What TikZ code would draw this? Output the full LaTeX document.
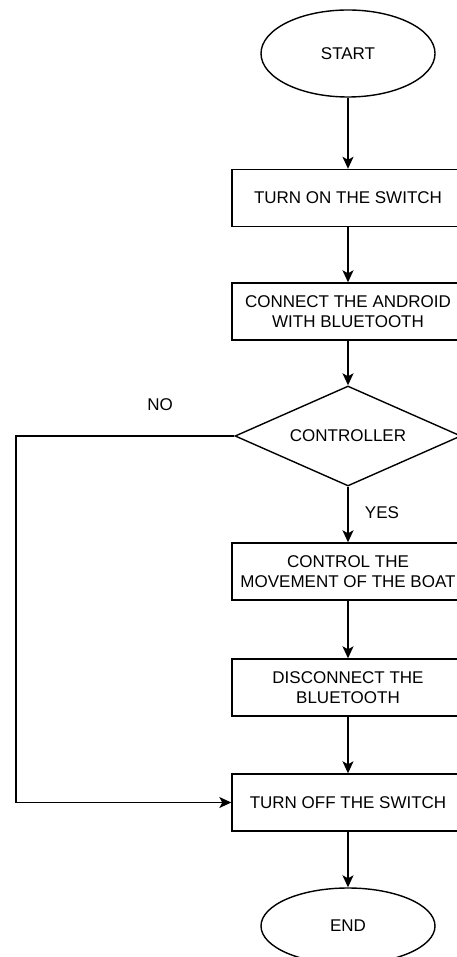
\documentclass[tikz,border=0pt]{standalone}
\usepackage{fontspec}
\setmainfont{Liberation Sans}
\usetikzlibrary{shapes.geometric,arrows.meta}

\tikzset{
    every node/.style={font=\fontsize{17}{20}\selectfont},
    process/.style={draw, line width=1.4pt, minimum width=232pt, minimum height=57pt, inner sep=0pt, align=center},
    terminal/.style={draw, ellipse, line width=1.4pt, minimum width=174pt, minimum height=87pt, inner sep=0pt},
    decision/.style={draw, diamond, aspect=2.26, line width=1.4pt, minimum width=226pt, minimum height=100pt, inner sep=0pt},
    flow/.style={line width=1.4pt, -{Stealth[length=12pt,width=11pt,inset=3pt]}}
}

\begin{document}
\begin{tikzpicture}[x=1pt,y=-1pt]
    \useasboundingbox (0,0) rectangle (457,957);

    % Start and first steps
    \node[terminal] (start) at (348,53.5) {START};
    \node[process] (on) at (348,198) {TURN ON THE SWITCH};
    \node[process] (connect) at (348,311.5) {CONNECT THE ANDROID\\WITH BLUETOOTH};

    % Decision
    \node[decision] (ctrl) at (348,436) {CONTROLLER};

    % Yes branch
    \node[process] (move) at (348,571.5) {CONTROL THE\\MOVEMENT OF THE BOAT};
    \node[process] (disc) at (348,687.5) {DISCONNECT THE\\BLUETOOTH};
    \node[process] (off) at (348,802.5) {TURN OFF THE SWITCH};
    \node[terminal, minimum height=76pt] (end) at (348,926) {END};

    % Labels
    \node (no) at (160,405) {NO};
    \node (yes) at (382,513) {YES};
    \coordinate (loop) at (16,436);

    % Connectors
    \draw[flow] (start) -- (on);
    \draw[flow] (on) -- (connect);
    \draw[flow] (connect) -- (ctrl);
    \draw[flow] (ctrl) -- (move);
    \draw[flow] (move) -- (disc);
    \draw[flow] (disc) -- (off);
    \draw[flow] (off) -- (end);
    \draw[flow] (ctrl.west) -- (loop) |- (off.west);
\end{tikzpicture}
\end{document}
